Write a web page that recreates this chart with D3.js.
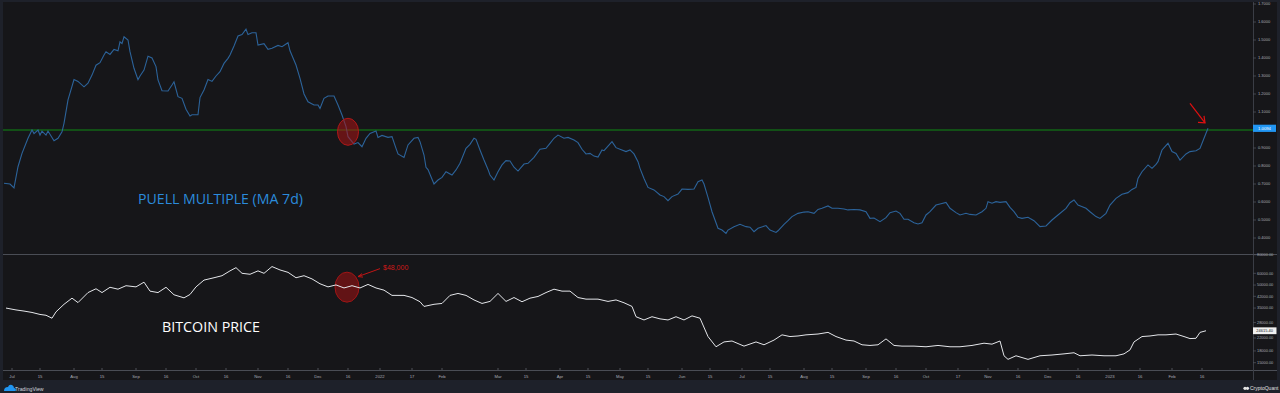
<!DOCTYPE html>
<html><head><meta charset="utf-8">
<script src="https://cdn.jsdelivr.net/npm/d3@7"></script>
<style>html,body{margin:0;padding:0;background:#1e212a;}svg{display:block;}</style>
</head><body>
<script>
// ---- DATA (days counted from 2022-01-01) ----
const puellDays = [-188,-185,-183,-181,-179,-176,-174,-173,-171,-170,-169,-167,-166,-163,-161,-159,-158,-156,-153,-151,-148,-146,-144,-142,-140,-138,-137,-135,-133,-131,-130,-129,-128,-126,-125,-123,-121,-120,-118,-116,-114,-112,-111,-109,-106,-104,-103,-101,-99,-97,-95,-94,-91,-90,-88,-86,-84,-82,-80,-78,-76,-75,-73,-71,-69,-67,-66,-64,-62,-61,-58,-56,-54,-51,-49,-46,-45,-42,-40,-38,-36,-33,-31,-30,-28,-26,-23,-21,-19,-17,-16,-13,-11,-9,-7,-5,-2,-1,1,4,6,8,9,12,14,17,19,20,22,23,24,27,29,31,33,36,38,40,43,45,47,48,50,52,54,55,57,59,61,63,65,67,69,72,74,77,80,83,85,87,89,92,94,97,99,101,103,105,107,109,111,112,114,116,118,120,123,125,127,129,130,132,134,137,140,142,144,146,149,151,154,157,159,161,162,164,166,168,169,171,173,174,177,180,183,185,187,189,193,195,198,199,202,204,206,209,212,214,217,219,221,224,226,229,232,234,237,240,243,245,247,250,253,255,258,260,262,264,267,269,271,273,275,278,280,283,285,288,290,293,295,298,301,303,304,306,308,310,313,315,317,319,321,324,327,330,333,336,339,343,345,347,349,353,355,358,360,363,365,368,371,374,376,378,379,381,384,386,388,389,391,394,396,398,400,403,405,408,410,412,414];
const puellValues = [0.704,0.70,0.678,0.796,0.87,0.954,1.0,0.98,1.0,0.972,0.994,0.972,0.994,0.94,0.954,0.99,1.037,1.167,1.28,1.27,1.24,1.26,1.305,1.36,1.374,1.417,1.435,1.42,1.448,1.44,1.49,1.48,1.518,1.50,1.435,1.343,1.28,1.30,1.333,1.41,1.40,1.352,1.278,1.218,1.217,1.25,1.268,1.185,1.176,1.115,1.078,1.085,1.085,1.18,1.222,1.28,1.27,1.30,1.324,1.37,1.398,1.417,1.467,1.522,1.53,1.56,1.53,1.54,1.54,1.472,1.48,1.448,1.454,1.47,1.463,1.485,1.44,1.361,1.287,1.2,1.157,1.139,1.139,1.12,1.176,1.189,1.189,1.139,1.083,1.019,0.963,0.922,0.93,0.907,0.954,0.981,0.994,0.959,0.97,0.959,0.963,0.898,0.867,0.848,0.917,0.954,0.959,0.935,0.861,0.793,0.78,0.70,0.722,0.737,0.768,0.75,0.778,0.815,0.898,0.92,0.954,0.948,0.889,0.833,0.781,0.75,0.722,0.768,0.806,0.83,0.828,0.793,0.772,0.811,0.815,0.848,0.893,0.898,0.926,0.954,0.972,0.954,0.959,0.944,0.93,0.893,0.867,0.87,0.855,0.85,0.889,0.885,0.911,0.935,0.902,0.893,0.88,0.889,0.867,0.824,0.787,0.731,0.681,0.667,0.639,0.63,0.607,0.63,0.644,0.672,0.67,0.672,0.713,0.722,0.70,0.626,0.546,0.485,0.454,0.444,0.426,0.444,0.463,0.476,0.463,0.46,0.435,0.454,0.469,0.444,0.431,0.44,0.476,0.496,0.519,0.537,0.544,0.546,0.537,0.559,0.565,0.578,0.565,0.565,0.561,0.556,0.558,0.556,0.546,0.509,0.511,0.491,0.513,0.541,0.55,0.537,0.504,0.504,0.485,0.478,0.485,0.528,0.546,0.583,0.589,0.598,0.565,0.541,0.528,0.537,0.531,0.528,0.546,0.565,0.602,0.593,0.602,0.598,0.602,0.57,0.546,0.515,0.509,0.515,0.496,0.463,0.467,0.5,0.528,0.565,0.596,0.611,0.583,0.565,0.546,0.519,0.509,0.537,0.583,0.62,0.643,0.652,0.67,0.681,0.731,0.768,0.806,0.787,0.809,0.824,0.889,0.926,0.88,0.87,0.833,0.867,0.88,0.885,0.898,0.954,1.0094];

const priceDays = [-187,-182,-178,-174,-170,-167,-164,-162,-158,-154,-151,-146,-142,-139,-135,-131,-127,-122,-118,-115,-111,-107,-103,-98,-95,-92,-88,-83,-79,-75,-72,-69,-65,-61,-58,-54,-50,-46,-42,-38,-34,-30,-26,-22,-18,-14,-10,-6,-2,2,6,12,16,20,22,27,31,35,39,43,47,51,55,59,63,67,71,75,79,83,87,91,95,99,103,109,114,118,122,126,128,132,136,140,144,148,152,156,160,164,168,172,176,182,188,192,197,201,205,209,213,219,224,228,233,237,241,245,249,253,257,261,267,273,279,285,290,296,302,306,310,312,314,318,324,330,336,342,347,350,356,362,368,372,375,377,381,385,389,393,398,402,405,408,410,413];
const priceValues = [35000,34000,33400,32700,31700,31300,29900,33000,37100,40800,38100,44500,47200,44500,48300,46900,49500,48600,52300,45500,44500,48300,43000,41000,43200,48600,54000,56000,57800,62300,65500,60000,59100,62300,60000,66600,63200,60900,56000,57800,55000,51000,48600,50100,47800,49500,47800,50500,47800,46200,42600,42600,41200,38600,35900,37100,37600,42600,43900,42600,39700,37600,38800,43900,38800,41200,38600,40800,41900,44500,46900,45500,45500,41200,40200,40200,38800,39700,38000,35900,30600,29100,30600,29600,29100,30600,29100,31000,29900,22500,19200,20700,21000,19400,20700,19800,21300,23100,22500,22700,23100,23400,24000,22500,21300,21000,19800,19600,19800,21700,19600,19400,19400,19200,19600,19200,19200,19600,20300,20000,21000,16700,15800,16700,15800,16700,16900,17200,17500,16700,16900,16700,16700,17200,18300,20700,22500,22700,23100,23100,23400,22500,21800,21900,24000,24615.4];

const puellTicks = [1.7,1.6,1.5,1.4,1.3,1.2,1.1,1.0,0.9,0.8,0.7,0.6,0.5,0.4];
const priceTicks = [80000,60000,50000,42000,35000,28000,22000,18000,15000];
const xTickDates = ["2021-07-01","2021-07-15","2021-08-01","2021-08-15","2021-09-01","2021-09-16","2021-10-01","2021-10-16","2021-11-01","2021-11-16","2021-12-01","2021-12-16","2022-01-01","2022-01-17","2022-02-01","2022-03-01","2022-03-15","2022-04-01","2022-04-15","2022-05-01","2022-05-15","2022-06-01","2022-06-15","2022-07-01","2022-07-15","2022-08-01","2022-08-15","2022-09-01","2022-09-16","2022-10-01","2022-10-17","2022-11-01","2022-11-16","2022-12-01","2022-12-16","2023-01-01","2023-01-16","2023-02-01","2023-02-16"];
const xTickLabels = ["Jul","15","Aug","15","Sep","16","Oct","16","Nov","16","Dec","16","2022","17","Feb","Mar","15","Apr","15","May","15","Jun","15","Jul","15","Aug","15","Sep","16","Oct","17","Nov","16","Dec","16","2023","16","Feb","16"];
const puellLevel = 1.0;

// annotations (in data units)
const topCircle = {day:-16, value:0.99};
const topArrow = {fromDay:405, fromValue:1.148, toDay:412.5, toValue:1.04};
const btmCircle = {day:-16.5, price:48400};
const btmArrow = {fromDay:0, fromPrice:64500, toDay:-11, toPrice:57000};
const btmLabel = {day:1.5, price:65500, text:"$48,000"};

// ---- CHART ----
const W = 1280, H = 393;
const base = Date.UTC(2022,0,1);
const dayToDate = d => new Date(base + d*864e5);
const svg = d3.select("body").append("svg").attr("width",W).attr("height",H);

const plotL = 3, plotR = 1253, topT = 2, sepY = 254, axisY = 370, stripY = 380;
const x = d3.scaleUtc().domain([dayToDate(-190), dayToDate(436.5)]).range([0, plotR]);
const yP = d3.scaleLinear().domain([0.4,1.7]).range([238,4]);
const yB = d3.scaleLog().domain([15000,60000]).range([362.7,273.3]);

const BG = "#161619", FRAME = "#1e212a", AX = "#3b3e46", TXT = "#a9acb4";
svg.append("rect").attr("width",W).attr("height",H).attr("fill",FRAME);
svg.append("rect").attr("x",plotL).attr("y",topT).attr("width",1277-plotL).attr("height",stripY-topT).attr("fill",BG);

const defs = svg.append("defs");
defs.append("clipPath").attr("id","cTop").append("rect").attr("x",plotL).attr("y",topT).attr("width",plotR-plotL).attr("height",sepY-topT);
defs.append("clipPath").attr("id","cBot").append("rect").attr("x",plotL).attr("y",sepY).attr("width",plotR-plotL).attr("height",axisY-sepY);

// separators
svg.append("line").attr("x1",plotL).attr("x2",1277).attr("y1",sepY+0.5).attr("y2",sepY+0.5).attr("stroke","#4a4d55").attr("stroke-width",1);
svg.append("line").attr("x1",plotL).attr("x2",1277).attr("y1",axisY+0.5).attr("y2",axisY+0.5).attr("stroke","#4a4d55").attr("stroke-width",1);
svg.append("line").attr("x1",plotR+0.5).attr("x2",plotR+0.5).attr("y1",topT).attr("y2",stripY).attr("stroke","#3a3d45").attr("stroke-width",1);

// top panel
const gT = svg.append("g").attr("clip-path","url(#cTop)");
gT.append("line").attr("x1",plotL).attr("x2",plotR).attr("y1",yP(puellLevel)).attr("y2",yP(puellLevel))
  .attr("stroke","#0f8a14").attr("stroke-width",1.2);
const puell = puellDays.map((d,i)=>({date:dayToDate(d), v:puellValues[i]}));
gT.append("path").datum(puell).attr("fill","none").attr("stroke","#2c639a").attr("stroke-width",1.1)
  .attr("d", d3.line().x(d=>x(d.date)).y(d=>yP(d.v)));

gT.append("text").attr("x",138).attr("y",204).attr("fill","#2b8bdc").attr("font-family","Open Sans, sans-serif")
  .attr("font-size",14.5).attr("textLength",165).attr("lengthAdjust","spacingAndGlyphs").text("PUELL MULTIPLE (MA 7d)");

// top annotations
gT.append("ellipse").attr("cx",x(dayToDate(topCircle.day))).attr("cy",yP(topCircle.value)).attr("rx",10.5).attr("ry",13.5)
  .attr("fill","rgba(170,20,20,0.55)").attr("stroke","#b01818").attr("stroke-width",1);
const ta = {x1:x(dayToDate(topArrow.fromDay)), y1:yP(topArrow.fromValue), x2:x(dayToDate(topArrow.toDay)), y2:yP(topArrow.toValue)};
gT.append("line").attr("x1",ta.x1).attr("y1",ta.y1).attr("x2",ta.x2).attr("y2",ta.y2).attr("stroke","#e01010").attr("stroke-width",1.2);
gT.append("path").attr("d",`M${ta.x2-7},${ta.y2-0.5} L${ta.x2},${ta.y2} L${ta.x2-1},${ta.y2-7}`).attr("fill","none").attr("stroke","#e01010").attr("stroke-width",1.2);

// bottom panel
const gB = svg.append("g").attr("clip-path","url(#cBot)");
const price = priceDays.map((d,i)=>({date:dayToDate(d), v:priceValues[i]}));
gB.append("ellipse").attr("cx",x(dayToDate(btmCircle.day))).attr("cy",yB(btmCircle.price)).attr("rx",12).attr("ry",15)
  .attr("fill","rgba(150,18,18,0.6)").attr("stroke","#a01515").attr("stroke-width",1);
gB.append("path").datum(price).attr("fill","none").attr("stroke","#e4e6ea").attr("stroke-width",1)
  .attr("d", d3.line().x(d=>x(d.date)).y(d=>yB(d.v)));
gB.append("text").attr("x",162).attr("y",332).attr("fill","#ffffff").attr("font-family","Open Sans, sans-serif")
  .attr("font-size",14).attr("textLength",98).attr("lengthAdjust","spacingAndGlyphs").text("BITCOIN PRICE");
const ba = {x1:x(dayToDate(btmArrow.fromDay)), y1:yB(btmArrow.fromPrice), x2:x(dayToDate(btmArrow.toDay)), y2:yB(btmArrow.toPrice)};
gB.append("line").attr("x1",ba.x1).attr("y1",ba.y1).attr("x2",ba.x2).attr("y2",ba.y2).attr("stroke","#c01515").attr("stroke-width",1);
gB.append("path").attr("d",`M${ba.x2+4},${ba.y2-3} L${ba.x2},${ba.y2} L${ba.x2+5},${ba.y2+0.5}`).attr("fill","none").attr("stroke","#c01515").attr("stroke-width",1);
gB.append("text").attr("x",x(dayToDate(btmLabel.day))).attr("y",yB(btmLabel.price)+2).attr("fill","#d01818")
  .attr("font-family","Liberation Sans, Arial, sans-serif").attr("font-size",7).text(btmLabel.text);

// right axis labels
const fontAx = "Liberation Sans, Arial, sans-serif";
const rA = svg.append("g");
puellTicks.forEach(t=>{
  rA.append("line").attr("x1",plotR).attr("x2",plotR+3).attr("y1",yP(t)).attr("y2",yP(t)).attr("stroke","#555860").attr("stroke-width",0.7);
  rA.append("text").attr("x",plotR+5).attr("y",yP(t)+1.4).attr("fill",TXT).attr("font-family",fontAx).attr("font-size",4).text(d3.format(".4f")(t));
});
priceTicks.forEach(t=>{
  rA.append("line").attr("x1",plotR).attr("x2",plotR+3).attr("y1",yB(t)).attr("y2",yB(t)).attr("stroke","#555860").attr("stroke-width",0.7);
  rA.append("text").attr("x",plotR+4).attr("y",yB(t)+1.4).attr("fill",TXT).attr("font-family",fontAx).attr("font-size",3.9).text(d3.format(".2f")(t));
});
// last value boxes
const lastP = puellValues[puellValues.length-1];
rA.append("rect").attr("x",plotR).attr("y",yP(lastP)-3.6).attr("width",23).attr("height",7.2).attr("fill","#2196f3");
rA.append("text").attr("x",plotR+11.5).attr("y",yP(lastP)+1.5).attr("text-anchor","middle").attr("fill","#fff").attr("font-family",fontAx).attr("font-size",4.2).text(d3.format(".4f")(lastP));
const lastB = priceValues[priceValues.length-1];
rA.append("rect").attr("x",plotR).attr("y",yB(lastB)-3.4).attr("width",23.5).attr("height",6.8).attr("fill","#f0f0f0");
rA.append("text").attr("x",plotR+11.7).attr("y",yB(lastB)+1.4).attr("text-anchor","middle").attr("fill","#131722").attr("font-family",fontAx).attr("font-size",4).text(d3.format(".2f")(lastB));

// x axis
const xa = svg.append("g");
xTickDates.forEach((s,i)=>{
  const xx = x(d3.utcParse("%Y-%m-%d")(s));
  xa.append("line").attr("x1",xx).attr("x2",xx).attr("y1",axisY-2).attr("y2",axisY).attr("stroke","#6a6d75").attr("stroke-width",0.7);
  xa.append("text").attr("x",xx).attr("y",axisY+7.5).attr("text-anchor","middle").attr("fill",TXT).attr("font-family",fontAx).attr("font-size",4.2).text(xTickLabels[i]);
});

// footer strip
const ft = svg.append("g");
ft.append("path").attr("d","M4,391 q0,-4 4,-4 q1,-3 4,-2 q2,1 2,3 q2,0 2,2 q0,1 -1,1 z").attr("fill","#2196f3");
ft.append("text").attr("x",15).attr("y",390.5).attr("fill","#d1d4dc").attr("font-family",fontAx).attr("font-size",5.2).text("TradingView");
ft.append("circle").attr("cx",1245).attr("cy",388.3).attr("r",1.6).attr("fill","#e6e6e6");
ft.append("circle").attr("cx",1247.5).attr("cy",388.3).attr("r",1.6).attr("fill","#e6e6e6");
ft.append("text").attr("x",1250).attr("y",390).attr("fill","#e0e0e0").attr("font-family",fontAx).attr("font-size",5).text("CryptoQuant");
</script>
</body></html>
